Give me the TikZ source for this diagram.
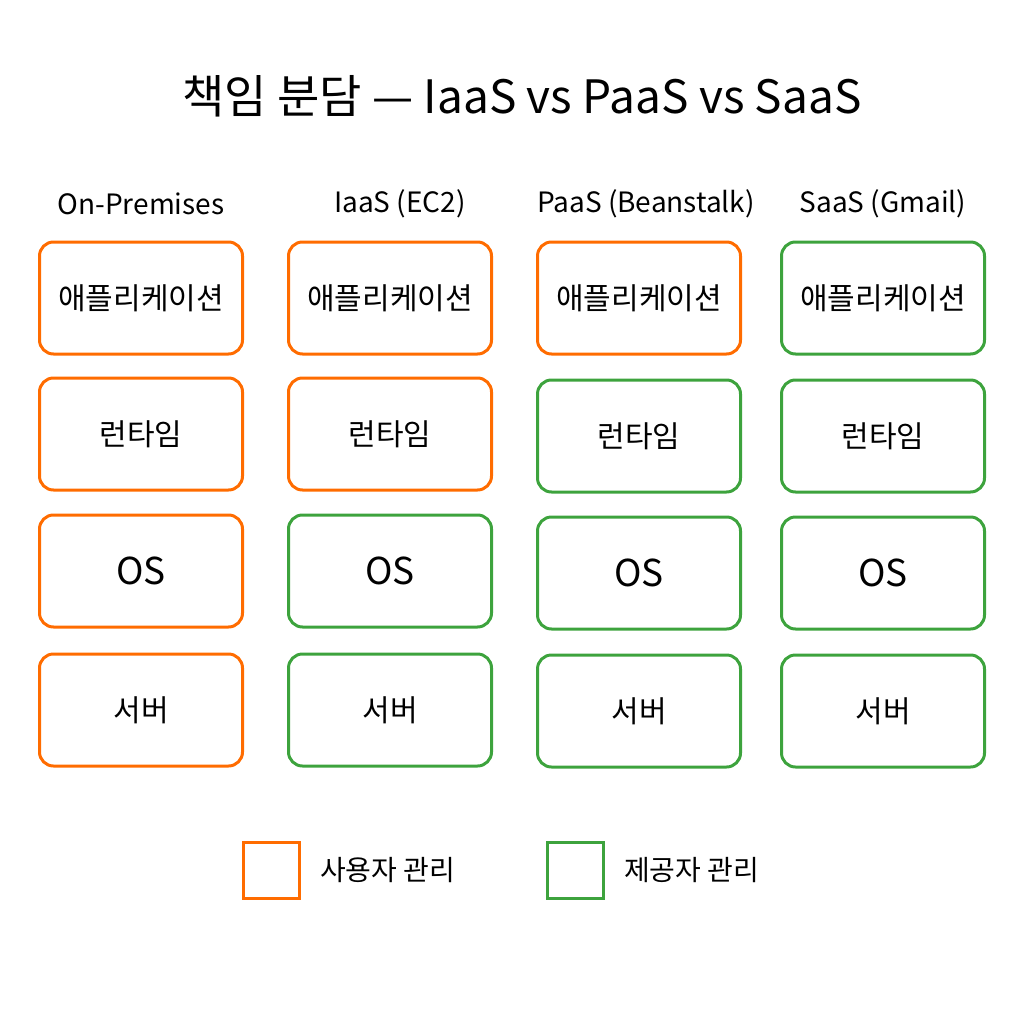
\documentclass[tikz,border=0pt]{standalone}
\usepackage{fontspec}
\setmainfont{Noto Sans CJK KR}
\usepackage{tikz}
\usetikzlibrary{positioning}
\colorlet{usercol}{orange!85!red}
\definecolor{provcol}{HTML}{3DA33D}
\tikzset{layer/.style = {shape=rectangle,draw,rounded corners=14pt,line width=3pt,
    minimum width=203pt,minimum height=112pt,font=\fontsize{30}{34}\selectfont}}
\tikzset{user/.style = {layer,draw=usercol}}
\tikzset{prov/.style = {layer,draw=provcol}}
\tikzset{head/.style = {font=\fontsize{28}{32}\selectfont}}
\tikzset{key/.style = {shape=rectangle,draw,line width=3pt,minimum size=56pt}}

\begin{document}
\begin{tikzpicture}[x=1pt,y=-1pt]
                    \useasboundingbox (0,0) rectangle (1024,1024);
                    \node[font=\fontsize{46}{52}\selectfont] (T) at (522,96) {책임 분담 — IaaS vs PaaS vs SaaS};

                    \node[head] (Hon) at (141,204) {On-Premises};
                    \node[head] (Hi) at (400,204) {IaaS (EC2)};
                    \node[head] (Hp) at (646,204) {PaaS (Beanstalk)};
                    \node[head] (Hs) at (883,204) {SaaS (Gmail)};

                    \node[user] (OnA) at (141,298) {애플리케이션};
                    \node[user] (OnR) at (141,434) {런타임};
                    \node[user] (OnO) at (141,571) {\fontsize{37}{40}\selectfont OS};
                    \node[user] (OnS) at (141,710) {서버};

                    \node[user] (IA) at (390,298) {애플리케이션};
                    \node[user] (IR) at (390,434) {런타임};
                    \node[prov] (IO) at (390,571) {\fontsize{37}{40}\selectfont OS};
                    \node[prov] (IS) at (390,710) {서버};

                    \node[user] (PA) at (639,298) {애플리케이션};
                    \node[prov] (PR) at (639,436) {런타임};
                    \node[prov] (PO) at (639,573) {\fontsize{37}{40}\selectfont OS};
                    \node[prov] (PS) at (639,711) {서버};

                    \node[prov] (SA) at (883,298) {애플리케이션};
                    \node[prov] (SR) at (883,436) {런타임};
                    \node[prov] (SO) at (883,573) {\fontsize{37}{40}\selectfont OS};
                    \node[prov] (SS) at (883,711) {서버};

                    \node[key,draw=usercol] (Ku) at (271,870) {};
                    \node[head,right=16pt of Ku] (Lu) {사용자 관리};
                    \node[key,draw=provcol] (Kp) at (575,870) {};
                    \node[head,right=16pt of Kp] (Lp) {제공자 관리};
                \end{tikzpicture}
\end{document}
